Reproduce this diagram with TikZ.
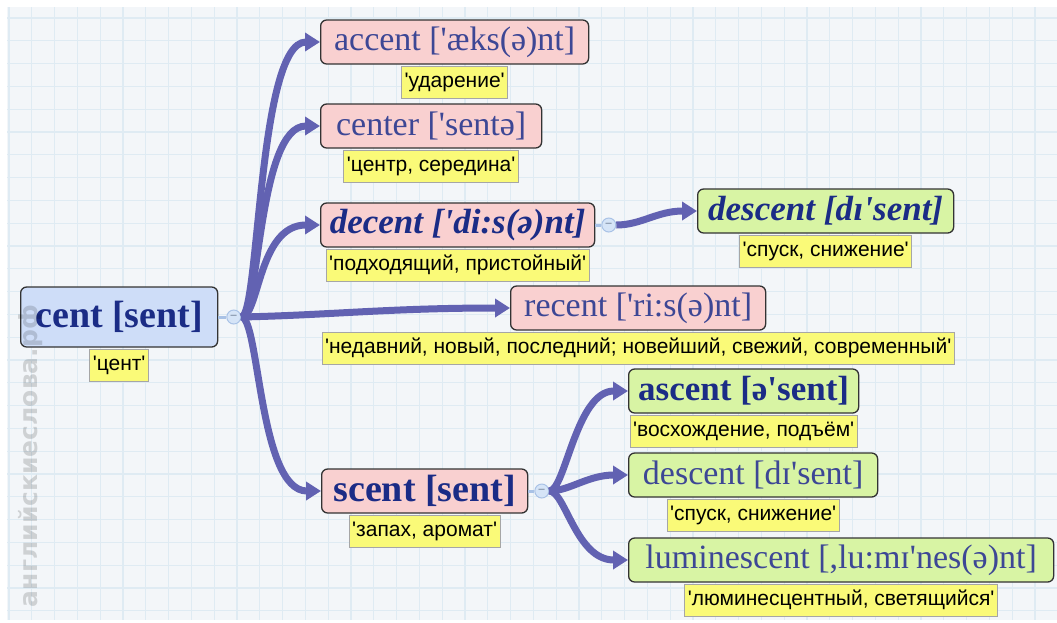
\documentclass[tikz,border=0pt]{standalone}
\usepackage{fontspec}
\usetikzlibrary{positioning,arrows.meta}
\newfontfamily\wordfont[Ligatures=TeXOff]{Liberation Serif}
\newfontfamily\glossfont[Ligatures=TeXOff]{Liberation Sans}
\newfontfamily\markfont{DejaVu Sans}

\definecolor{mapPaper}{HTML}{F3F6F9}
\definecolor{mapGrid}{HTML}{DFEBF3}
\definecolor{mapPink}{HTML}{F9D0D0}
\definecolor{mapGreen}{HTML}{D8F4A4}
\definecolor{mapBlue}{HTML}{CEDDF8}
\definecolor{mapNote}{HTML}{FAFA78}
\definecolor{mapLink}{HTML}{6262B2}
\definecolor{mapInk}{HTML}{1B2C86}
\definecolor{mapSoftInk}{HTML}{3D4795}
\definecolor{mapKnob}{HTML}{D5E4F7}
\definecolor{mapKnobLine}{HTML}{A9C2E6}

\begin{document}
\begin{tikzpicture}[x=1pt,y=-1pt,
  word/.style={draw=black!80,line width=1.3pt,rounded corners=6pt,anchor=west,minimum height=44,inner xsep=9pt,text=mapSoftInk,font=\wordfont\fontsize{34}{38}\selectfont},
  hot/.style={text=mapInk,font=\wordfont\bfseries\fontsize{35}{38}\selectfont},
  gloss/.style={draw=black!35,line width=1pt,fill=mapNote,minimum height=32,inner xsep=3pt,inner ysep=0pt,font=\glossfont\fontsize{21}{23}\selectfont},
  link/.style={draw=mapLink,line width=7pt,-{Triangle[length=15pt,width=18pt]}},
  knob/.style={circle,draw=mapKnobLine,fill=mapKnob,minimum size=14,inner sep=0pt,line width=1pt,text=mapKnobLine!60!black,font=\glossfont\fontsize{11}{11}\selectfont},
  stub/.style={draw=mapKnobLine,line width=3pt}]
  \useasboundingbox (0,0) rectangle (1057,622);
  \fill[white] (0,0) rectangle (1057,622);
  \fill[mapPaper] (7,7) rectangle (1057,620);
  \foreach \gx in {9,31.8,...,1057} \draw[mapGrid,line width=1.2pt] (\gx,7) -- (\gx,620);
  \foreach \gy in {18,40.8,...,620} \draw[mapGrid,line width=1.2pt] (7,\gy) -- (1057,\gy);

  \node[word,hot,fill=mapBlue,minimum width=197,minimum height=60,font=\wordfont\bfseries\fontsize{38}{42}\selectfont] (cent) at (20,317) {cent [sent]};
  \node[gloss,below=1pt of cent] (centgl) {'цент'};

  \node[word,fill=mapPink,minimum width=268] (accent) at (320,42) {accent ['æks(ə)nt]};
  \node[gloss,below=1pt of accent] (accentgl) {'ударение'};
  \node[word,fill=mapPink,minimum width=221] (center) at (320,126) {center ['sentə]};
  \node[gloss,below=1pt of center] (centergl) {'центр, середина'};
  \node[word,hot,fill=mapPink,minimum width=274,font=\wordfont\bfseries\itshape\fontsize{35}{38}\selectfont] (decent) at (320,225) {decent ['di:s(ə)nt]};
  \node[gloss,below=1pt of decent] (decentgl) {'подходящий, пристойный'};
  \node[word,hot,fill=mapGreen,minimum width=256,font=\wordfont\bfseries\itshape\fontsize{35}{38}\selectfont] (descentA) at (697,211) {descent [dɪ'sent]};
  \node[gloss,below=1pt of descentA] (descentAgl) {'спуск, снижение'};
  \node[word,fill=mapPink,minimum width=255] (recent) at (510,308) {recent ['ri:s(ə)nt]};
  \node[gloss,below=1pt of recent] (recentgl) {'недавний, новый, последний; новейший, свежий, современный'};
  \node[word,hot,fill=mapPink,minimum width=206,font=\wordfont\bfseries\fontsize{38}{42}\selectfont] (scent) at (321,491) {scent [sent]};
  \node[gloss,below=1pt of scent] (scentgl) {'запах, аромат'};
  \node[word,hot,fill=mapGreen,minimum width=230] (ascent) at (628,391) {ascent [ə'sent]};
  \node[gloss,below=1pt of ascent] (ascentgl) {'восхождение, подъём'};
  \node[word,fill=mapGreen,minimum width=249] (descentB) at (628,475) {descent [dɪ'sent]};
  \node[gloss,below=1pt of descentB] (descentBgl) {'спуск, снижение'};
  \node[word,fill=mapGreen,minimum width=425] (lumin) at (628,560) {luminescent [,lu:mɪ'nes(ə)nt]};
  \node[gloss,below=1pt of lumin] (lumingl) {'люминесцентный, светящийся'};

  \node[knob,right=8pt of cent] (centknob) {–};
  \node[knob,right=6pt of decent] (decentknob) {–};
  \node[knob,right=6pt of scent] (scentknob) {–};
  \draw[stub] (cent) -- (centknob);
  \draw[stub] (decent) -- (decentknob);
  \draw[stub] (scent) -- (scentknob);

  \draw[link] (centknob.east) .. controls +(18,0) and +(-62,0) .. (accent.west);
  \draw[link] (centknob.east) .. controls +(18,0) and +(-62,0) .. (center.west);
  \draw[link] (centknob.east) .. controls +(18,0) and +(-62,0) .. (decent.west);
  \draw[link] (centknob.east) .. controls +(90,-2) and +(-120,0) .. (recent.west);
  \draw[link] (centknob.east) .. controls +(18,0) and +(-62,0) .. (scent.west);
  \draw[link] (decentknob.east) .. controls +(25,0) and +(-40,0) .. (descentA.west);
  \draw[link] (scentknob.east) .. controls +(16,0) and +(-52,0) .. (ascent.west);
  \draw[link] (scentknob.east) .. controls +(20,0) and +(-40,0) .. (descentB.west);
  \draw[link] (scentknob.east) .. controls +(16,0) and +(-52,0) .. (lumin.west);

  \node[rotate=90,text=black,text opacity=.15,font=\markfont\bfseries\fontsize{25}{25}\selectfont] (mark) at (31,456) {английскиеслова.рф};
\end{tikzpicture}
\end{document}
